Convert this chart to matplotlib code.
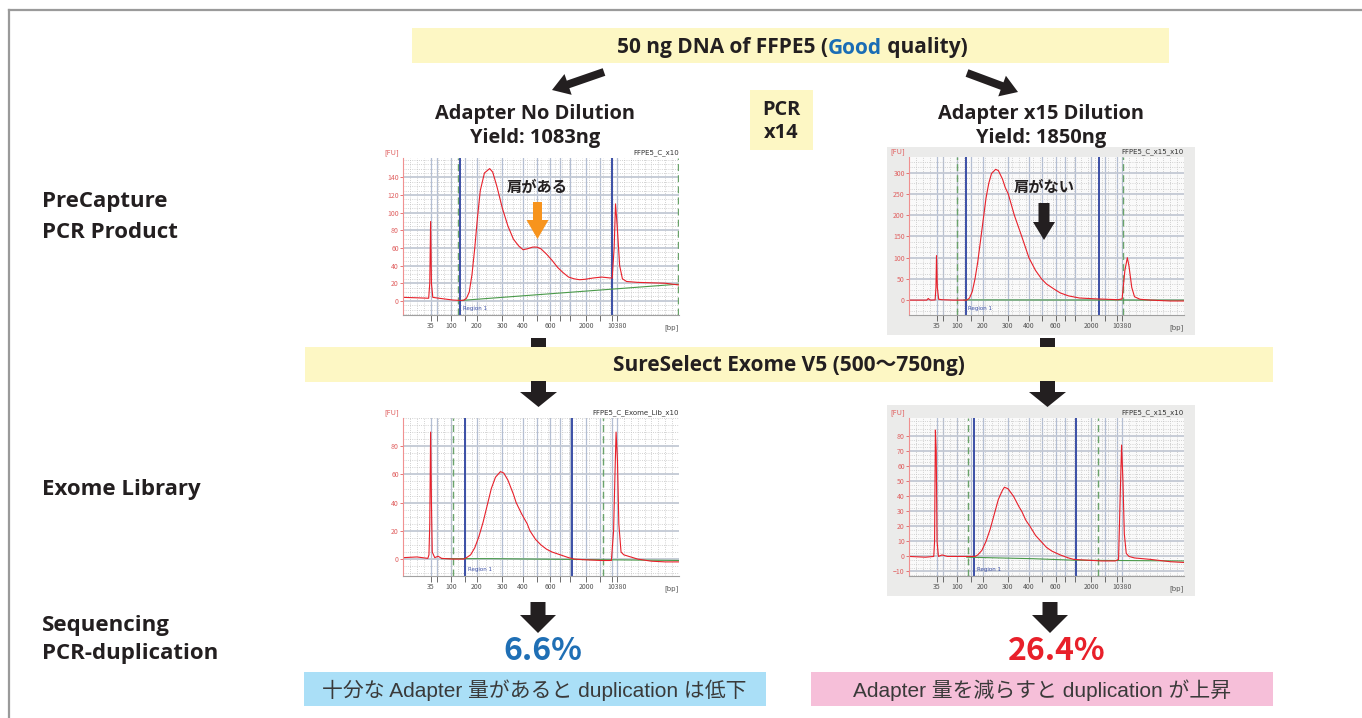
import numpy as np
import matplotlib
matplotlib.use("Agg")
import matplotlib.pyplot as plt
from matplotlib.patches import Rectangle, FancyArrow
from matplotlib.ticker import MultipleLocator, AutoMinorLocator

plt.rcParams['font.family'] = ['Noto Sans CJK JP', 'DejaVu Sans']

W, H = 1362, 718

# ---- ladder (migration time -> bp) ----
ladder_pos = [10.0, 12.3, 17.4, 22.5, 26.8, 35.9, 43.5, 48.4, 53.3, 56.9, 60.5, 66.3, 71.4, 75.6, 77.5]
ladder_lbl = ["35", "", "100", "", "200", "300", "400", "", "600", "", "", "2000", "", "", "10380"]

# ---- PreCapture, adapter no dilution ----
t1 = [0, 5, 9.3, 9.7, 10.0, 10.3, 10.8, 13, 18, 21, 22, 23, 24, 25, 26, 27, 28, 29.5, 31.4, 32.5,
      34, 36, 38, 40, 42, 43.5, 45, 47, 48.5, 50, 52, 54, 56, 58, 60, 62, 64, 66, 69, 72, 75,
      75.8, 76.5, 77.0, 77.6, 78.5, 79.5, 81, 85, 90, 95, 100]
fu1 = [4, 3.5, 3, 20, 90, 20, 4, 3, 1, 0.5, 0.8, 3, 10, 30, 60, 95, 125, 145, 150, 146,
       130, 105, 85, 70, 62, 58, 59, 61, 61, 59, 53, 46, 38, 32, 27, 25, 24, 24.5, 26, 27, 26,
       26, 60, 110, 85, 40, 25, 22, 21, 20.5, 20, 18]
base1_t = [21, 100]
base1_fu = [0.5, 19]

# ---- PreCapture, adapter x15 dilution ----
t2 = [0, 6.5, 7, 7.5, 8, 9.5, 9.8, 10.0, 10.3, 10.8, 12, 16, 21, 22, 23, 24, 25, 26, 27, 28, 29,
      30, 31.5, 32.5, 34, 35, 36.1, 38.3, 41, 43.6, 46, 48.2, 50, 53, 55, 58, 62, 68, 72, 76,
      77.5, 78.5, 79.4, 80, 81, 82, 84, 88, 95, 100]
fu2 = [0, 0, 4, 1, 0, 0.5, 30, 105, 30, 2, 1, 0, 0, 5, 20, 50, 90, 140, 190, 240, 275,
       298, 308, 305, 285, 265, 250, 200, 150, 100, 70, 50, 38, 25, 17, 10, 5, 3, 2, 1,
       3, 70, 100, 80, 30, 8, 2, 0, -2, -2]
base2_t = [20, 100]
base2_fu = [0.5, 0]

# ---- Exome library, no dilution ----
t3 = [0, 5, 9, 9.4, 9.7, 10.0, 10.3, 10.6, 11.5, 12.7, 14, 18, 22, 23, 24.5, 26, 27.5, 29, 30.5,
      32, 33.5, 35.3, 36.5, 38, 40, 41, 43, 45, 46, 48, 50, 52, 54, 57, 60, 62, 66, 72, 75.5,
      76.3, 76.8, 77.2, 77.7, 78.2, 79, 80, 85, 90, 95, 100]
fu3 = [1, 1.5, 0.5, 3, 25, 90, 40, 5, 1, 2, 0.5, 0, 0, 1, 3, 8, 16, 26, 38,
       50, 58, 62, 61, 56, 46, 40, 32, 25, 20, 14, 10, 7, 5, 3, 1, 0, -0.5, -1, -1,
       20, 60, 90, 70, 25, 5, 3, 0, -1.5, -2, -2]
base3_t = [14, 32, 100]
base3_fu = [0.3, 0.3, -1]

# ---- Exome library, x15 dilution ----
t4 = [0, 6, 9, 9.3, 9.6, 9.9, 10.2, 10.7, 12, 14, 20, 24, 25, 26.5, 28, 29.5, 31, 32.5, 34,
      34.7, 36, 38, 40, 41, 42.5, 44, 46, 48, 50, 52, 55, 58, 60, 65, 70, 75, 76.2, 76.8, 77.3,
      77.8, 78.3, 79, 80, 82, 88, 95, 100]
fu4 = [0, -0.5, 0, 10, 84, 70, 10, 0, 1, 0, 0, 0, 1, 4, 10, 18, 28, 38, 44,
       46, 45, 40, 33, 30, 24, 20, 14, 10, 6, 3.5, 1, -1, -2, -2.5, -3, -3, -2, 40, 74,
       50, 15, 2, 0, -1, -2, -3.5, -4]
base4_t = [21, 45, 60, 100]
base4_fu = [-0.5, -1.5, -2.5, -3]

fig = plt.figure(figsize=(W / 100, H / 100), dpi=100)

bg = fig.add_axes([0, 0, 1, 1])
bg.set_xlim(0, W)
bg.set_ylim(H, 0)
bg.axis('off')

top = fig.add_axes([0, 0, 1, 1], zorder=10)
top.set_xlim(0, W)
top.set_ylim(H, 0)
top.axis('off')
top.patch.set_alpha(0)

dark = '#231f20'
yellow = '#fdf7c4'
head_font = ['Open Sans', 'Noto Sans CJK JP']
body_font = ['Liberation Sans', 'Noto Sans CJK JP']

# outer frame
bg.plot([9, W], [10, 10], color='#9a9a9a', lw=1.6)
bg.plot([9, 9], [10, H], color='#9a9a9a', lw=1.6)

# gray panels behind the diluted-adapter traces
bg.add_patch(Rectangle((887, 147), 308, 188, color='#ebebea', lw=0))
bg.add_patch(Rectangle((887, 405), 308, 191, color='#ebebea', lw=0))

# boxes
bg.add_patch(Rectangle((412, 28), 757, 35, color=yellow, lw=0))
bg.add_patch(Rectangle((750, 90), 63, 60, color=yellow, lw=0))
bg.add_patch(Rectangle((305, 347), 968, 35, color=yellow, lw=0))
bg.add_patch(Rectangle((304, 672), 462, 34, color='#aadff7', lw=0))
bg.add_patch(Rectangle((811, 672), 462, 34, color='#f6bfd9', lw=0))

# header text with coloured "Good"
hdr_kw = dict(fontsize=15, fontweight='bold', family=head_font, ha='left', va='center')
hdr = bg.text(617, 48, "50 ng DNA of FFPE5 (", color=dark, **hdr_kw)
fig.canvas.draw()
r = fig.canvas.get_renderer()
def px_after(t):
    return t.get_window_extent(renderer=r).x1
t_good = bg.text(px_after(hdr), 48, "Good", color='#1a6db5', **hdr_kw)
fig.canvas.draw()
bg.text(px_after(t_good), 48, " quality)", color=dark, **hdr_kw)

bold = dict(fontsize=14.4, fontweight='bold', color=dark, va='center', family=head_font)
side = dict(fontsize=16, fontweight='bold', color=dark, va='center', family=head_font)
bg.text(535, 114, "Adapter No Dilution", ha='center', **bold)
bg.text(535, 138, "Yield: 1083ng", ha='center', **bold)
bg.text(1041, 114, "Adapter x15 Dilution", ha='center', **bold)
bg.text(1041, 138, "Yield: 1850ng", ha='center', **bold)
bg.text(781, 110, "PCR", ha='center', **bold)
bg.text(781, 133, "x14", ha='center', **bold)

bg.text(42, 202, "PreCapture", ha='left', **side)
bg.text(42, 232, "PCR Product", ha='left', **side)
bg.text(42, 489, "Exome Library", ha='left', **side)
bg.text(42, 625, "Sequencing", ha='left', **side)
bg.text(42, 654, "PCR-duplication", ha='left', **side)

bg.text(789, 366, "SureSelect Exome V5 (500～750ng)", ha='center', fontsize=15,
        fontweight='bold', color=dark, va='center', family=head_font)

bg.text(543, 651, "6.6%", ha='center', va='center', fontsize=23, fontweight='bold', color='#1f6fb5')
bg.text(1057, 651, "26.4%", ha='center', va='center', fontsize=23, fontweight='bold', color='#e8202a')

bg.text(534, 690, "十分な Adapter 量があると duplication は低下", ha='center', va='center',
        fontsize=15, color='#3a3a3a', family=body_font)
bg.text(1042, 690, "Adapter 量を減らすと duplication が上昇", ha='center', va='center',
        fontsize=15, color='#3a3a3a', family=body_font)

# arrows
def arrow(ax, x0, y0, x1, y1, w, hw, hl, c=dark):
    ax.add_patch(FancyArrow(x0, y0, x1 - x0, y1 - y0, width=w, head_width=hw, head_length=hl,
                            length_includes_head=True, color=c, lw=0))

arrow(bg, 604, 72, 552, 90, 8, 22, 17)
arrow(bg, 967, 73, 1018, 92, 8, 22, 17)
for xc in [538.5, 1047.5]:
    bg.add_patch(Rectangle((xc - 7.5, 338), 15, 9, color=dark, lw=0))
    arrow(bg, xc, 381, xc, 407, 15, 37, 15)
arrow(bg, 538, 602, 538, 633, 15, 36, 18)
arrow(bg, 1050, 602, 1050, 633, 15, 36, 18)


def trace(rect, t, fu, bt, bfu, blue, green, ylim, yticks, title, face='white'):
    l, tp, rt, b = rect
    ax = fig.add_axes([l / W, 1 - b / H, (rt - l) / W, (b - tp) / H])
    ax.set_facecolor(face)
    ax.set_xlim(0, 100)
    ax.set_ylim(*ylim)
    ax.set_xticks(ladder_pos)
    ax.set_xticklabels(ladder_lbl)
    ax.set_yticks(yticks)
    ax.xaxis.set_minor_locator(MultipleLocator(2.5))
    ax.yaxis.set_minor_locator(AutoMinorLocator(4))
    ax.grid(which='major', axis='x', color='#b3bed3', lw=0.9)
    ax.grid(which='major', axis='y', color='#c3c9d4', lw=1.3)
    ax.grid(which='minor', color='#c4c4c4', lw=0.6, ls=':')
    ax.set_axisbelow(True)
    ax.tick_params(which='minor', length=0)
    ax.tick_params(axis='x', labelsize=5, colors='#555555', length=4, width=0.6, pad=1)
    ax.tick_params(axis='y', labelsize=5, colors='#e06060', length=2, width=0.6, pad=1)
    for s in ['top', 'right']:
        ax.spines[s].set_visible(False)
    ax.spines['left'].set_color('#f09090')
    ax.spines['bottom'].set_color('#a0a0a0')
    for xv in green:
        ax.axvline(xv, color='#6aa36a', lw=1.0, ls=(0, (5, 3)))
    for xv in blue:
        ax.axvline(xv, color='#3b4fa6', lw=1.4)
    ax.plot(bt, bfu, color='#4a9a4a', lw=0.8)
    ax.plot(t, fu, color='#e8202a', lw=0.8)
    ax.text(blue[0] + 1, ylim[0] + 0.03 * (ylim[1] - ylim[0]), "Region 1", fontsize=4,
            color='#3b4fa6', family='DejaVu Sans')
    ax.text(-0.015, 1.01, "[FU]", transform=ax.transAxes, fontsize=5, color='#e06060',
            ha='right', va='bottom', family='DejaVu Sans')
    ax.text(1.0, 1.01, title, transform=ax.transAxes, fontsize=5, color='#333333',
            ha='right', va='bottom', family='DejaVu Sans')
    ax.text(1.0, -0.06, "[bp]", transform=ax.transAxes, fontsize=5, color='#555555',
            ha='right', va='top', family='DejaVu Sans')
    return ax


trace((403, 158, 679, 315), t1, fu1, base1_t, base1_fu, [20.6, 75.8], [20.0, 99.5],
      (-16, 162), range(0, 141, 20), "FFPE5_C_x10")
trace((909, 157, 1184, 315), t2, fu2, base2_t, base2_fu, [20.6, 69.0], [17.3, 77.9],
      (-35, 337), range(0, 301, 50), "FFPE5_C_x15_x10", face='#fafafa')
trace((403, 418, 679, 576), t3, fu3, base3_t, base3_fu, [22.4, 61.4], [18.1, 72.3],
      (-12, 100), range(0, 81, 20), "FFPE5_C_Exome_Lib_x10")
trace((909, 418, 1184, 576), t4, fu4, base4_t, base4_fu, [23.8, 60.6], [21.6, 68.8],
      (-13, 92), range(-10, 81, 10), "FFPE5_C_x15_x10", face='#fafafa')

# annotations above the traces
top.text(537, 187, "肩がある", ha='center', va='center', fontsize=11, fontweight='bold', color=dark)
top.text(1044, 187, "肩がない", ha='center', va='center', fontsize=11, fontweight='bold', color=dark)
arrow(top, 537.5, 202, 537.5, 239, 9, 22, 19, c='#f7941d')
arrow(top, 1044, 203, 1044, 240, 11, 22, 18)

fig.savefig("out.png", dpi=100)
